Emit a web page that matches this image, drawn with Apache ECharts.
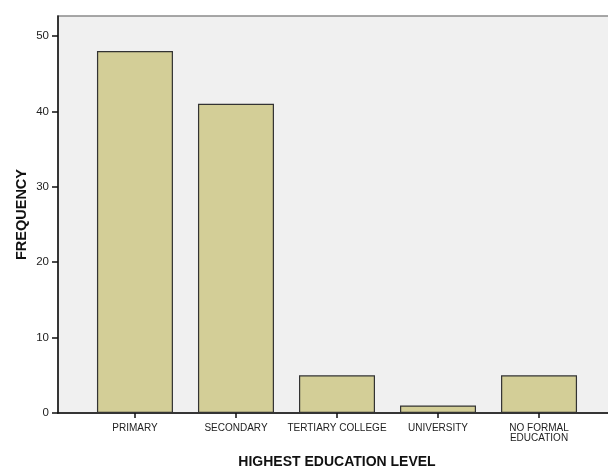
<!DOCTYPE html>
<html><head><meta charset="utf-8">
<script src="https://cdn.jsdelivr.net/npm/echarts@6/dist/echarts.min.js"></script>
<style>html,body{margin:0;padding:0;background:#fff}#c{width:608px;height:468px}</style>
</head><body><div id="c"></div>
<script>
var categories = ['PRIMARY', 'SECONDARY', 'TERTIARY COLLEGE', 'UNIVERSITY', 'NO FORMAL\nEDUCATION'];
var frequency = [48, 41, 5, 1, 5];
var yTicks = [0, 10, 20, 30, 40, 50];
var catIdx = categories.map(function (c, i) { return i; });

var chart = echarts.init(document.getElementById('c'));
chart.setOption({
  animation: false,
  grid: { left: 58, top: 16, width: 558, bottom: 55, outerBoundsMode: 'none', containLabel: false, show: true, backgroundColor: '#f0f0f0', borderColor: '#8a8a8a', borderWidth: 1.5 },
  xAxis: {
    type: 'value', min: -0.762, max: 4.762,
    name: 'HIGHEST EDUCATION LEVEL', nameLocation: 'middle', nameGap: 42,
    nameTextStyle: { fontFamily: 'Liberation Sans', fontWeight: 'bold', fontSize: 14, color: '#111' },
    splitLine: { show: false },
    axisLine: { onZero: false, lineStyle: { color: '#111', width: 1.5 } },
    axisTick: { customValues: catIdx, length: 5, lineStyle: { color: '#111', width: 1.5 } },
    axisLabel: { customValues: catIdx, formatter: function (v) { return categories[Math.round(v)]; }, fontFamily: 'Liberation Sans', fontSize: 10, color: '#222', margin: 10, lineHeight: 10 }
  },
  yAxis: {
    type: 'value', min: 0, max: 52.65,
    name: 'FREQUENCY', nameLocation: 'middle', nameGap: 29, nameMoveOverlap: false,
    nameTextStyle: { fontFamily: 'Liberation Sans', fontWeight: 'bold', fontSize: 14.5, color: '#111' },
    splitLine: { show: false },
    axisLine: { show: true, onZero: false, lineStyle: { color: '#111', width: 1.5 } },
    axisTick: { show: true, customValues: yTicks, length: 6, lineStyle: { color: '#111', width: 1.5 } },
    axisLabel: { customValues: yTicks, fontFamily: 'Liberation Sans', fontSize: 11.5, color: '#222', margin: 9 }
  },
  series: [{
    type: 'bar', barWidth: 76,
    data: frequency.map(function (v, i) { return [catIdx[i], v]; }),
    itemStyle: { color: '#d3ce97', borderColor: '#333', borderWidth: 1.2 }
  }]
});
</script></body></html>
